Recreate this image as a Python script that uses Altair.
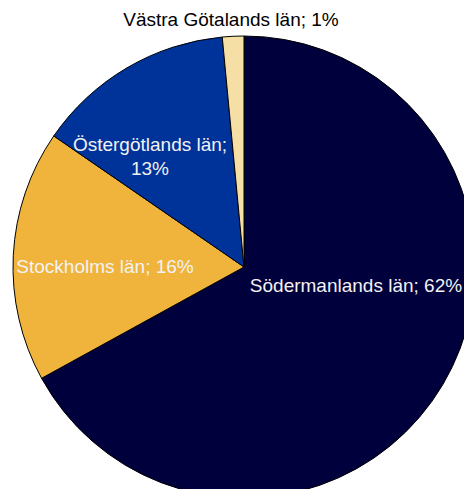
import altair as alt
import pandas as pd

regions = ["Södermanlands län", "Stockholms län", "Östergötlands län", "Västra Götalands län"]
shares = [67.0, 17.6, 13.9, 1.5]
labels = ["Södermanlands län; 62%", "Stockholms län; 16%", ["Östergötlands län;", "13%"], "Västra Götalands län; 1%"]
colors = ["#00003C", "#F0B43C", "#003399", "#F5DFA5"]
order = [0, 1, 2, 3]

df = pd.DataFrame({"region": regions, "value": shares, "idx": order})

cx, cy, R = 236, 259, 231

pie = alt.Chart(df).mark_arc(outerRadius=R, stroke="black", strokeWidth=1).encode(
    theta=alt.Theta("value:Q", stack=True),
    color=alt.Color("region:N", scale=alt.Scale(domain=regions, range=colors), legend=None),
    order=alt.Order("idx:Q"),
    x=alt.value(cx),
    y=alt.value(cy),
)

label_pos = [(348, 278, "#F2F2F2"), (97, 259, "#F2F2F2"), (142, 137, "#F2F2F2"), (223, 12, "#000000")]

layers = [pie]
for lab, (lx, ly, col) in zip(labels, label_pos):
    t = alt.Chart(pd.DataFrame({"d": [0]})).mark_text(
        text=lab, font="Liberation Sans", fontSize=19, color=col,
        align="center", baseline="middle", lineHeight=24
    ).encode(x=alt.value(lx), y=alt.value(ly))
    layers.append(t)

chart = alt.layer(*layers).properties(
    width=456, height=481, padding=0, autosize=alt.AutoSizeParams(type="none")
).configure_view(stroke=None)

chart.save("out.html", embed_options={"renderer": "svg", "actions": False})
